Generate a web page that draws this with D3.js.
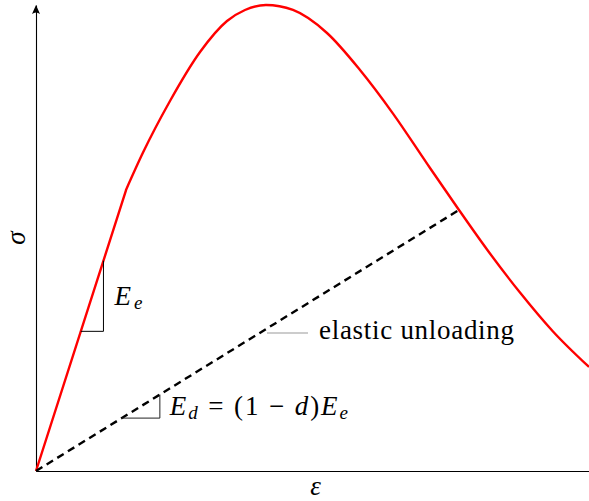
<!DOCTYPE html>
<html>
<head>
<meta charset="utf-8">
<script src="https://cdn.jsdelivr.net/npm/d3@7"></script>
<style>
  html, body { margin: 0; padding: 0; background: #fff; }
  svg { display: block; }
  text { font-family: "Liberation Serif", "DejaVu Serif", serif; fill: #000; }
</style>
</head>
<body>
<svg id="chart" width="589" height="501"></svg>
<script>
// Stress–strain response with softening (strain, stress in arbitrary units)
const elasticModulus = 3.7;            // initial slope E_e
const peakStartStrain = 1.627;         // end of the linear branch
const softeningStrain = [1.627, 1.935, 2.423, 2.966, 3.454, 3.779, 4.159, 4.647, 5.262, 5.859, 6.456, 7.071, 7.649, 8.156, 8.752, 9.349, 10.0];
const softeningStress = [6.03, 6.833, 7.94, 8.991, 9.657, 9.893, 10.0, 9.893, 9.399, 8.605, 7.67, 6.597, 5.601, 4.753, 3.83, 2.994, 2.232];
// unloading point on the curve
const unloadStrain = 7.649;
const unloadStress = 5.601;
// slope triangles: strain ranges
const eeTriangle = [0.81, 1.22];
const edTriangle = [1.55, 2.24];

const svg = d3.select("#chart");
const x = d3.scaleLinear().domain([0, 10]).range([36, 589]);
const y = d3.scaleLinear().domain([0, 10]).range([471, 5]);

// axes
const axisX = d3.axisBottom(x).tickValues([]).tickSizeOuter(0);
const gx = svg.append("g").attr("transform", `translate(0,${y(0)})`).call(axisX);
gx.select(".domain").attr("stroke", "#000").attr("stroke-width", 1.2);

const axisY = d3.axisLeft(y).tickValues([]).tickSizeOuter(0);
const gy = svg.append("g").attr("transform", `translate(${x(0)},0)`).call(axisY);
gy.select(".domain").attr("stroke", "#000").attr("stroke-width", 1.1);

// arrow head on the stress axis
const ax = x(0), ay = y(10);
svg.append("path")
  .attr("d", `M${ax},${ay} L${ax + 4},${ay + 9} Q${ax},${ay + 6} ${ax - 4},${ay + 9} Z`)
  .attr("fill", "#000");

// response curve: linear branch followed by smooth softening branch
const linearPts = [[0, 0], [peakStartStrain, elasticModulus * peakStartStrain]];
const softPts = softeningStrain.map((s, i) => [s, softeningStress[i]]);
const lin = d3.line().x(d => x(d[0])).y(d => y(d[1]));
const smooth = d3.line().x(d => x(d[0])).y(d => y(d[1])).curve(d3.curveMonotoneX);

svg.append("path")
  .attr("d", lin(linearPts) + smooth(softPts).replace(/^M/, "L"))
  .attr("fill", "none").attr("stroke", "#ff0000").attr("stroke-width", 2.4)
  .attr("stroke-linejoin", "round");

// elastic unloading line
svg.append("path")
  .attr("d", lin([[0, 0], [unloadStrain, unloadStress]]))
  .attr("fill", "none").attr("stroke", "#000").attr("stroke-width", 2.4)
  .attr("stroke-dasharray", "7.5,5");

// slope triangle for E_e
const ee0 = eeTriangle[0], ee1 = eeTriangle[1];
svg.append("path")
  .attr("d", lin([[ee0, elasticModulus * ee0], [ee1, elasticModulus * ee0], [ee1, elasticModulus * ee1]]))
  .attr("fill", "none").attr("stroke", "#000").attr("stroke-width", 1);

// slope triangle for E_d
const edSlope = unloadStress / unloadStrain;
const ed0 = edTriangle[0], ed1 = edTriangle[1];
svg.append("path")
  .attr("d", lin([[ed0, edSlope * ed0], [ed1, edSlope * ed0], [ed1, edSlope * ed1]]))
  .attr("fill", "none").attr("stroke", "#222").attr("stroke-width", 1);

// labels
const fs = 27;
const eeLabel = svg.append("text")
  .attr("x", x(ee1) + 11).attr("y", 305).attr("font-size", fs)
  .attr("textLength", 28).attr("lengthAdjust", "spacing");
eeLabel.append("tspan").attr("font-style", "italic").text("E");
eeLabel.append("tspan").attr("font-style", "italic").attr("font-size", 19).attr("dy", 4).text("e");

const edLabel = svg.append("text")
  .attr("x", x(ed1) + 10).attr("y", 415).attr("font-size", fs)
  .attr("textLength", 178).attr("lengthAdjust", "spacing");
edLabel.append("tspan").attr("font-style", "italic").text("E");
edLabel.append("tspan").attr("font-style", "italic").attr("font-size", 19).attr("dy", 4).text("d");
edLabel.append("tspan").attr("dy", -4).text(" = (1 − ");
edLabel.append("tspan").attr("font-style", "italic").text("d");
edLabel.append("tspan").text(")");
edLabel.append("tspan").attr("font-style", "italic").text("E");
edLabel.append("tspan").attr("font-style", "italic").attr("font-size", 19).attr("dy", 4).text("e");

// leader for the unloading annotation
svg.append("line")
  .attr("x1", 267).attr("x2", 308).attr("y1", 333).attr("y2", 333)
  .attr("stroke", "#999").attr("stroke-width", 1);
svg.append("text")
  .attr("x", 319).attr("y", 339).attr("font-size", fs)
  .attr("textLength", 195).attr("lengthAdjust", "spacing")
  .text("elastic unloading");

// axis titles
svg.append("text")
  .attr("x", x(5) + 3).attr("y", 495).attr("text-anchor", "middle")
  .attr("font-size", fs).attr("font-style", "italic").text("ε");
svg.append("text")
  .attr("transform", `translate(25,${y(5)}) rotate(-90)`)
  .attr("text-anchor", "middle")
  .attr("font-size", fs).attr("font-style", "italic").text("σ");
</script>
</body>
</html>
